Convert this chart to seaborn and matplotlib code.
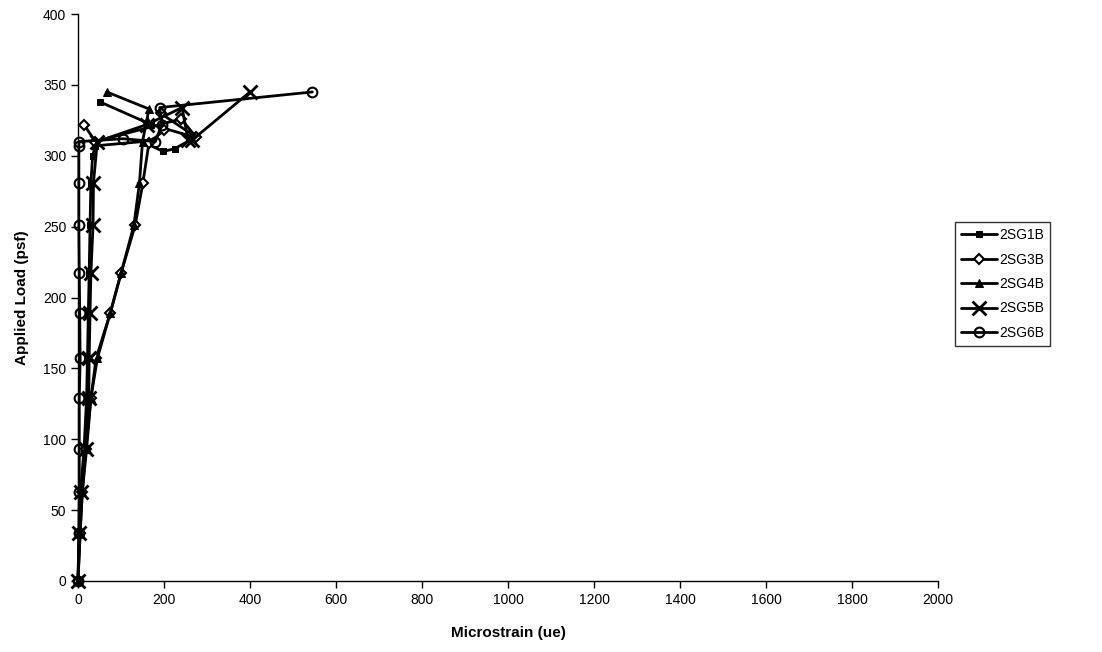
import matplotlib
matplotlib.use("Agg")
import matplotlib.pyplot as plt
import seaborn as sns
import pandas as pd

sns.set_style("white")
plt.rcParams['font.family'] = ['Liberation Sans', 'DejaVu Sans']
plt.rcParams['text.color'] = 'black'
plt.rcParams['axes.labelcolor'] = 'black'
plt.rcParams['xtick.color'] = 'black'
plt.rcParams['ytick.color'] = 'black'

# Data (microstrain, applied load psf)
sg1b_x = [0, 3, 6, 14, 20, 22, 24, 26, 28, 30, 34, 40, 150, 198, 225, 272, 170, 51]
sg1b_y = [0, 34, 63, 93, 129, 157, 189, 217, 251, 281, 300, 307, 310, 303, 305, 313, 322, 338]

sg3b_x = [0, 5, 10, 18, 30, 42, 75, 100, 133, 151, 165, 200, 192, 275, 240, 40, 14]
sg3b_y = [0, 34, 63, 93, 129, 157, 189, 217, 251, 281, 309, 318, 330, 313, 326, 310, 322]

sg4b_x = [0, 5, 10, 20, 30, 45, 75, 100, 130, 143, 150, 160, 165, 67]
sg4b_y = [0, 34, 63, 93, 129, 157, 189, 217, 251, 281, 310, 325, 333, 345]

sg5b_x = [0, 3, 8, 18, 25, 26, 28, 30, 35, 36, 45, 160, 242, 256, 265, 400]
sg5b_y = [0, 34, 63, 93, 129, 157, 189, 217, 251, 281, 310, 322, 334, 311, 311, 345]

sg6b_x = [0, 2, 3, 3, 3, 5, 4, 3, 2, 2, 2, 3, 105, 180, 195, 190, 545]
sg6b_y = [0, 34, 63, 93, 129, 157, 189, 217, 251, 281, 307, 310, 312, 310, 322, 334, 345]

series = [
    ("2SG1B", sg1b_x, sg1b_y, dict(marker='s', markersize=5, markerfacecolor='black')),
    ("2SG3B", sg3b_x, sg3b_y, dict(marker='D', markersize=5, markerfacecolor='white', markeredgewidth=1.5)),
    ("2SG4B", sg4b_x, sg4b_y, dict(marker='^', markersize=6, markerfacecolor='black')),
    ("2SG5B", sg5b_x, sg5b_y, dict(marker='x', markersize=10, markeredgewidth=2)),
    ("2SG6B", sg6b_x, sg6b_y, dict(marker='o', markersize=7, markerfacecolor='none', markeredgewidth=1.5)),
]

fig = plt.figure(figsize=(11.02, 6.52), dpi=100)
ax = fig.add_axes([78/1102, 1-581/652, (938-78)/1102, (581-14)/652])

for name, xs, ys, mk in series:
    df = pd.DataFrame({"x": xs, "y": ys})
    sns.lineplot(data=df, x="x", y="y", sort=False, estimator=None, ax=ax, color='black',
                 linewidth=2, markeredgecolor='black', label=name, clip_on=False, **mk)

ax.set_xlim(0, 2000)
ax.set_ylim(0, 400)
ax.set_xticks(range(0, 2001, 200))
ax.set_yticks(range(0, 401, 50))
ax.tick_params(axis='both', direction='out', length=5, width=1, labelsize=10, color='black',
               labelcolor='black', bottom=True, left=True)
for s in ['top', 'right']:
    ax.spines[s].set_visible(False)
for s in ['left', 'bottom']:
    ax.spines[s].set_color('black')
    ax.spines[s].set_linewidth(1)

ax.set_xlabel("Microstrain (ue)", fontsize=11, fontweight='bold', labelpad=14, color='black')
ax.set_ylabel("Applied Load (psf)", fontsize=11, fontweight='bold', labelpad=10, color='black')

leg = ax.legend(loc='center left', bbox_to_anchor=((955-78)/860, (581-284)/567), frameon=True,
                fancybox=False, edgecolor='black', fontsize=10, handlelength=2.6,
                borderpad=0.45, labelspacing=0.75, handletextpad=0.1, borderaxespad=0)
leg.get_frame().set_linewidth(1)
for t in leg.get_texts():
    t.set_color('black')

fig.savefig("out.png", dpi=100)
